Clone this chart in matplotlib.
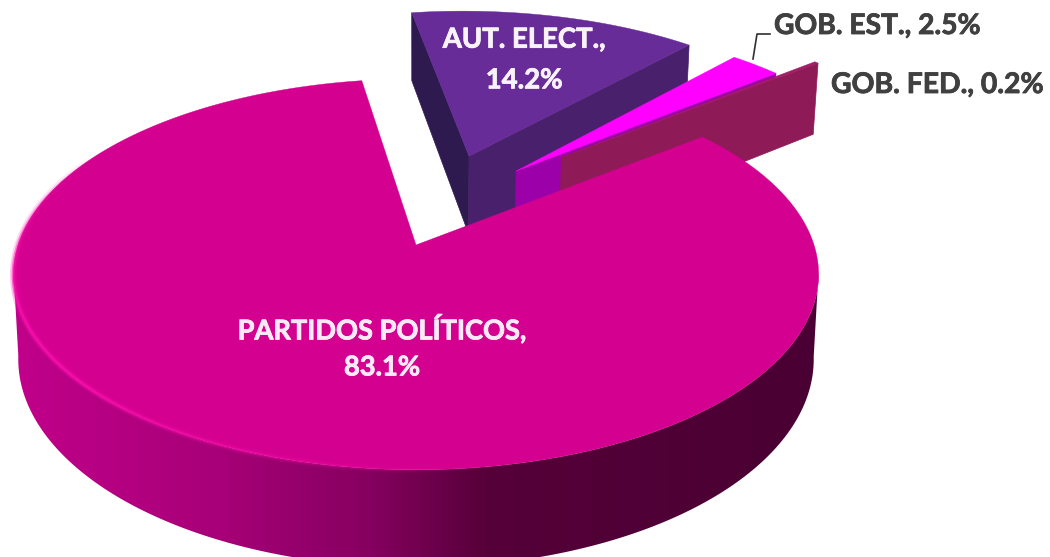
#!/usr/bin/env python3
"""Exploded 3D-look pie chart, drawn with a small perspective projection."""

import matplotlib

matplotlib.use("Agg")
import matplotlib.patheffects as pe
import matplotlib.pyplot as plt
import numpy as np
from matplotlib.collections import LineCollection
from matplotlib.colors import LinearSegmentedColormap
from matplotlib.patches import Polygon

# data, clockwise from the first slice
labels = ["AUT. ELECT.", "GOB. EST.", "GOB. FED.", "PARTIDOS POLÍTICOS"]
shares = [14.2, 2.5, 0.2, 83.1]

# layout
START_DEG = -9.0
CX, CY = 416, 245
RX, RY = 398, 191
PERSP = 0.15
TAPER = 0.012
DEPTH = 83
EXPLODE = [(0.52, 16.0), (0.49, 33.0), (0.63, 38.5), (0.0, 0.0)]

TOP = ["#672c98", "#ff00ff", "#a31c68", "#d4008f"]
WALL_LEFT = "#2e1a4f"
WALL_RIGHT = ["#48206b", "#9c00a8", "#8e1b57"]

side_cmap = LinearSegmentedColormap.from_list(
    "side", [(0.0, "#c0008a"), (0.25, "#a80078"), (0.45, "#85005f"), (0.6, "#560039"), (1.0, "#4a0033")]
)


def project(x, y, z=0.0):
    w = 1 + PERSP * y
    return CX + RX * x / w * (1 - TAPER * z), CY - RY * y / w + DEPTH * z / w


def slice_geometry(t0, t1, dist, direction):
    """Disc-plane coordinates of a wedge: offset, then points along the arc."""
    d = np.radians(direction)
    ox, oy = dist * np.sin(d), dist * np.cos(d)
    t = np.radians(np.linspace(t0, t1, max(int(abs(t1 - t0) * 2), 2)))
    return ox, oy, ox + np.sin(t), oy + np.cos(t)


def wall(ax, x0, y0, x1, y1, color, zorder):
    px0, py0 = project(x0, y0)
    px1, py1 = project(x1, y1)
    bx0, by0 = project(x0, y0, 1)
    bx1, by1 = project(x1, y1, 1)
    ax.fill([px0, px1, bx1, bx0], [py0, py1, by1, by0], color=color, lw=0.5, zorder=zorder)


def main():
    fig = plt.figure(figsize=(10.5, 5.57), dpi=100)
    ax = fig.add_axes([0, 0, 1, 1])
    ax.axis("off")

    edges = START_DEG + np.cumsum([0] + shares) * 3.6
    for i in range(len(shares)):
        ox, oy, arc_x, arc_y = slice_geometry(edges[i], edges[i + 1], *EXPLODE[i])
        z = 2 + i * 2
        if i < 3:
            if i == 0:
                wall(ax, ox, oy, arc_x[0], arc_y[0], WALL_LEFT, z)
            wall(ax, ox, oy, arc_x[-1], arc_y[-1], WALL_RIGHT[i], z)
        else:
            # outer side of the big slice: horizontal gradient clipped to the front wall
            tx, ty = project(arc_x, arc_y)
            front = arc_y < -PERSP + 0.02
            fx, fy = project(arc_x[front], arc_y[front])
            bx, by = project(arc_x[front], arc_y[front], 1)
            clip = Polygon(np.column_stack([np.r_[fx, bx[::-1]], np.r_[fy, by[::-1]]]), transform=ax.transData)
            grad = np.clip((np.linspace(0, 1050, 1024)[None, :] - 20) / 780, 0, 1)
            im = ax.imshow(grad, cmap=side_cmap, extent=(0, 1050, 557, 0), aspect="auto", vmin=0, vmax=1, zorder=z)
            im.set_clip_path(clip)

        px, py = project(np.r_[ox, arc_x], np.r_[oy, arc_y])
        ax.fill(px, py, color=TOP[i], lw=0.3, zorder=z + 1)

        if i == 3:
            # soft highlight on the front-left rim
            segs = np.column_stack([tx, ty])
            segs = np.stack([segs[:-1], segs[1:]], axis=1)
            mid = np.degrees(np.arctan2(arc_x[:-1], arc_y[:-1])) % 360
            fade = np.clip((mid - 170) / 60, 0, 1) * np.clip((300 - mid) / 40, 0, 1)
            for width, alpha in [(5, 0.25), (2.5, 0.6)]:
                rgba = np.tile(matplotlib.colors.to_rgba("#ff10b0"), (len(segs), 1))
                rgba[:, 3] = fade * alpha
                ax.add_collection(LineCollection(segs, colors=rgba, linewidths=width, zorder=z + 2))

    ax.set_xlim(0, 1050)
    ax.set_ylim(557, 0)

    def label(x, y, text, color, size, **kw):
        t = ax.text(x, y, text, color=color, family="Lato", fontweight="bold", fontsize=size,
                    va="center", zorder=20, **kw)
        t.set_path_effects([pe.withStroke(linewidth=0.6, foreground=color)])

    label(382, 347, f"{labels[3]},\n{shares[3]}%", "#fbeaf6", 19.6, ha="center", linespacing=1.6)
    label(524, 60, f"{labels[0]},\n{shares[0]}%", "#f8f3fb", 19.8, ha="center", linespacing=1.7)
    label(774, 26, f"{labels[1]}, {shares[1]}%", "#404040", 20.3, ha="left")
    label(831, 85, f"{labels[2]}, {shares[2]}%", "#404040", 20.4, ha="left")

    # leader line of the small slice
    ax.plot([753, 757, 770], [59, 34, 34], color="#303030", lw=1.2, zorder=3)

    fig.savefig("out.png", dpi=100)


if __name__ == "__main__":
    main()
